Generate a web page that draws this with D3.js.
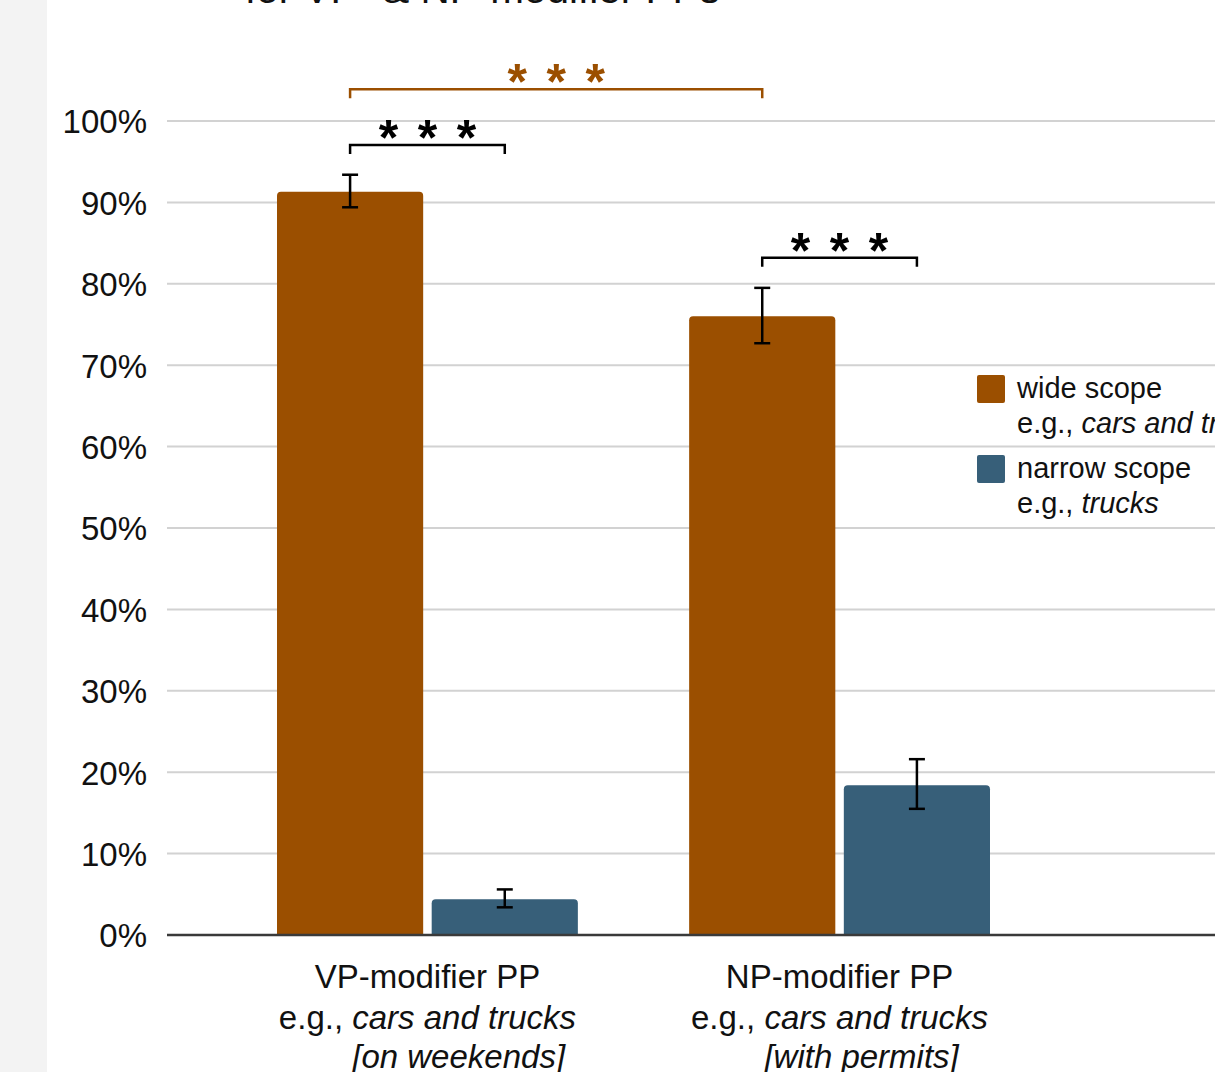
<!DOCTYPE html>
<html>
<head>
<meta charset="utf-8">
<script src="https://cdn.jsdelivr.net/npm/d3@7"></script>
<style>
  html, body { margin: 0; padding: 0; background: #ffffff; }
  svg { display: block; font-family: "Liberation Sans", Arial, sans-serif; }
</style>
</head>
<body>
<svg id="chart" width="1215" height="1072"></svg>
<script>
// ---- data ----
const categories = ["VP-modifier PP", "NP-modifier PP"];
const categoryExamples = ["cars and trucks", "cars and trucks"];
const categoryPPs = ["[on weekends]", "[with permits]"];
const seriesNames = ["wide scope", "narrow scope"];
const seriesExamples = ["cars and trucks", "trucks"];
const wideValues = [91.3, 76.0];
const narrowValues = [4.4, 18.4];
const wideErrLow = [89.4, 72.7];
const wideErrHigh = [93.4, 79.5];
const narrowErrLow = [3.4, 15.5];
const narrowErrHigh = [5.6, 21.6];
const yTicks = [0, 10, 20, 30, 40, 50, 60, 70, 80, 90, 100];
const titleText = "for VP- & NP-modifier PPs";
// significance comparisons: [category, series] -> [category, series], at level (%)
const sigFrom = [[0, 0], [0, 0], [1, 0]];
const sigTo = [[0, 1], [1, 0], [1, 1]];
const sigLevel = [97.05, 103.9, 83.2];
const sigLabel = ["***", "***", "***"];
const sigIsOrange = [false, true, false];

// ---- styles ----
const colors = ["#9b4f00", "#375f79"];
const W = 1215, H = 1072;
const svg = d3.select("#chart");

// left grey strip
svg.append("rect").attr("x", 0).attr("y", 0).attr("width", 47).attr("height", H).attr("fill", "#f3f3f3");

const y = d3.scaleLinear().domain([0, 100]).range([935, 121]);
const x0 = d3.scaleBand().domain(categories).range([277, 990]).paddingInner(0.27).paddingOuter(0);
const x1 = d3.scaleBand().domain(seriesNames).range([0, x0.bandwidth()]).paddingInner(0.055);

// title (cropped at top)
svg.append("text").attr("x", 245).attr("y", 3).attr("font-size", 40.5).attr("fill", "#111").text(titleText);

// gridlines
svg.append("g").selectAll("line").data(yTicks.filter(d => d > 0)).join("line")
  .attr("x1", 167).attr("x2", W).attr("y1", d => y(d)).attr("y2", d => y(d))
  .attr("stroke", "#d2d2d2").attr("stroke-width", 2);

// y axis labels via d3 axis
const yAxis = d3.axisLeft(y).tickValues(yTicks).tickFormat(d => d + "%").tickSize(0).tickPadding(0);
const gy = svg.append("g").attr("transform", "translate(147,0)").call(yAxis);
gy.select(".domain").remove();
gy.selectAll("text").attr("font-size", 33).attr("font-family", "Liberation Sans, Arial, sans-serif").attr("fill", "#111").attr("dy", "0.36em");

// bars
const rows = [];
categories.forEach((c, i) => {
  rows.push({ cat: c, ser: seriesNames[0], v: wideValues[i], lo: wideErrLow[i], hi: wideErrHigh[i], color: colors[0] });
  rows.push({ cat: c, ser: seriesNames[1], v: narrowValues[i], lo: narrowErrLow[i], hi: narrowErrHigh[i], color: colors[1] });
});
function topRounded(xl, yt, w, yb, r) {
  return `M${xl},${yb} L${xl},${yt + r} Q${xl},${yt} ${xl + r},${yt} L${xl + w - r},${yt} Q${xl + w},${yt} ${xl + w},${yt + r} L${xl + w},${yb} Z`;
}
svg.append("g").selectAll("path").data(rows).join("path")
  .attr("d", d => topRounded(x0(d.cat) + x1(d.ser), y(d.v), x1.bandwidth(), y(0), 4))
  .attr("fill", d => d.color);

// axis baseline
svg.append("line").attr("x1", 167).attr("x2", W).attr("y1", y(0)).attr("y2", y(0))
  .attr("stroke", "#3a3a3a").attr("stroke-width", 2.5);

// error bars
const eb = svg.append("g").attr("stroke", "#000").attr("stroke-width", 2.5).attr("fill", "none");
rows.forEach(d => {
  const cx = x0(d.cat) + x1(d.ser) + x1.bandwidth() / 2;
  eb.append("line").attr("x1", cx).attr("x2", cx).attr("y1", y(d.lo)).attr("y2", y(d.hi));
  eb.append("line").attr("x1", cx - 8).attr("x2", cx + 8).attr("y1", y(d.lo)).attr("y2", y(d.lo));
  eb.append("line").attr("x1", cx - 8).attr("x2", cx + 8).attr("y1", y(d.hi)).attr("y2", y(d.hi));
});

// significance brackets
sigFrom.forEach((f, i) => {
  const t = sigTo[i];
  const xa = x0(categories[f[0]]) + x1(seriesNames[f[1]]) + x1.bandwidth() / 2;
  const xb = x0(categories[t[0]]) + x1(seriesNames[t[1]]) + x1.bandwidth() / 2;
  const yl = y(sigLevel[i]);
  const col = sigIsOrange[i] ? colors[0] : "#000";
  svg.append("path").attr("d", `M${xa},${yl + 9} L${xa},${yl} L${xb},${yl} L${xb},${yl + 9}`)
    .attr("fill", "none").attr("stroke", col).attr("stroke-width", 2.5);
  const mid = (xa + xb) / 2;
  sigLabel[i].split("").forEach((s, k) => {
    svg.append("text").attr("x", mid + (k - 1) * 39).attr("y", yl + 10)
      .attr("text-anchor", "middle").attr("font-size", 50).attr("font-weight", "bold")
      .attr("fill", col).text(s);
  });
});

// category labels
const lblFont = 33;
categories.forEach((c, i) => {
  const cx = x0(c) + x0.bandwidth() / 2;
  svg.append("text").attr("x", cx).attr("y", 988).attr("text-anchor", "middle")
    .attr("font-size", lblFont).attr("fill", "#111").text(c);
  const t2 = svg.append("text").attr("x", cx).attr("y", 1029).attr("text-anchor", "middle")
    .attr("font-size", lblFont).attr("fill", "#111");
  t2.append("tspan").text("e.g., ");
  t2.append("tspan").attr("font-style", "italic").text(categoryExamples[i]);
  const node = t2.node();
  const startX = node.getStartPositionOfChar(6).x;
  svg.append("text").attr("x", startX).attr("y", 1068)
    .attr("font-size", lblFont).attr("font-style", "italic").attr("fill", "#111").text(categoryPPs[i]);
});

// legend
const legFont = 29;
seriesNames.forEach((s, i) => {
  const yTop = 375 + i * 80;
  svg.append("rect").attr("x", 977).attr("y", yTop).attr("width", 28).attr("height", 28).attr("rx", 2)
    .attr("fill", colors[i]);
  svg.append("text").attr("x", 1017).attr("y", yTop + 23).attr("font-size", legFont).attr("fill", "#111").text(s);
  const t = svg.append("text").attr("x", 1017).attr("y", yTop + 58).attr("font-size", legFont).attr("fill", "#111");
  t.append("tspan").text("e.g., ");
  t.append("tspan").attr("font-style", "italic").text(seriesExamples[i]);
});
</script>
</body>
</html>
